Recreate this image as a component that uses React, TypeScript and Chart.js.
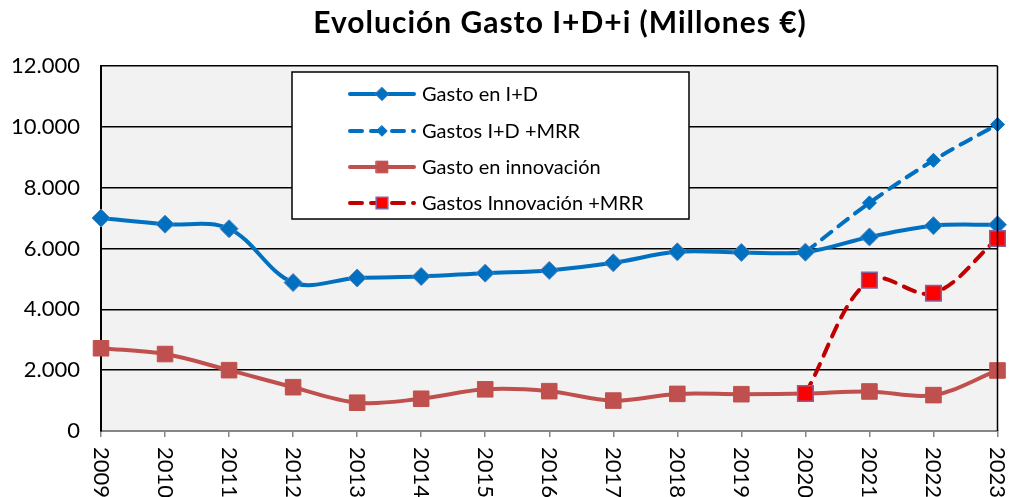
import React, { useEffect, useRef } from "react";
import { Chart, registerables } from "chart.js";

Chart.register(...registerables);

const years = ["2009", "2010", "2011", "2012", "2013", "2014", "2015", "2016", "2017", "2018", "2019", "2020", "2021", "2022", "2023"];
const gastoID = [7000, 6800, 6650, 4880, 5030, 5080, 5190, 5280, 5530, 5890, 5870, 5880, 6380, 6750, 6780];
const gastoIDMRR = [null, null, null, null, null, null, null, null, null, null, null, 5880, 7500, 8900, 10080];
const gastoInnov = [2720, 2530, 2000, 1440, 930, 1060, 1370, 1310, 1000, 1220, 1210, 1230, 1300, 1180, 1990];
const gastoInnovMRR = [null, null, null, null, null, null, null, null, null, null, null, 1230, 4960, 4530, 6330];
const seriesLabels = ["Gasto en I+D", "Gastos I+D +MRR", "Gasto en innovación", "Gastos Innovación +MRR"];
const yTicks = [0, 2000, 4000, 6000, 8000, 10000, 12000];
const title = "Evolución Gasto I+D+i (Millones €)";

const FONT = "Lato, 'DejaVu Sans', sans-serif";

function fmt(v: number): string {
  return String(v).replace(/\B(?=(\d{3})+(?!\d))/g, ".");
}

const decorPlugin = {
  id: "decor",
  beforeDraw(chart: any) {
    const { ctx, chartArea: a } = chart;
    ctx.save();
    ctx.fillStyle = "#F2F2F2";
    ctx.fillRect(a.left, a.top, a.right - a.left, a.bottom - a.top);
    ctx.restore();
  },
  afterDraw(chart: any) {
    const { ctx, chartArea: a } = chart;
    const xs = chart.scales.x;
    ctx.save();
    ctx.strokeStyle = "#000";
    ctx.lineWidth = 1.5;
    ctx.beginPath();
    ctx.moveTo(a.right, a.top);
    ctx.lineTo(a.right, a.bottom);
    ctx.stroke();
    ctx.fillStyle = "#000";
    ctx.font = `bold 30px ${FONT}`;
    ctx.textAlign = "center";
    ctx.textBaseline = "middle";
    (ctx as any).letterSpacing = "1px";
    ctx.fillText(title, 560, 23);
    (ctx as any).letterSpacing = "0px";
    ctx.font = `22px ${FONT}`;
    years.forEach((y, i) => {
      const px = xs.getPixelForValue(i);
      ctx.save();
      ctx.translate(px, a.bottom + 16);
      ctx.rotate(Math.PI / 2);
      ctx.textAlign = "left";
      ctx.textBaseline = "middle";
      ctx.fillText(y, 0, 0);
      ctx.restore();
    });
    const bx = 292, by = 72, bw = 397, bh = 147;
    ctx.fillStyle = "#fff";
    ctx.fillRect(bx, by, bw, bh);
    ctx.strokeStyle = "#000";
    ctx.lineWidth = 1.5;
    ctx.strokeRect(bx, by, bw, bh);
    const rows = [94, 131, 167, 203];
    chart.data.datasets.forEach((ds: any, i: number) => {
      const ry = rows[i];
      ctx.save();
      ctx.strokeStyle = ds.borderColor;
      ctx.lineWidth = ds.borderWidth;
      ctx.lineCap = "round";
      ctx.setLineDash(ds.borderDash || []);
      ctx.beginPath();
      ctx.moveTo(350, ry);
      ctx.lineTo(414, ry);
      ctx.stroke();
      ctx.setLineDash([]);
      ctx.fillStyle = ds.pointBackgroundColor;
      ctx.strokeStyle = ds.pointBorderColor;
      ctx.lineWidth = ds.pointBorderWidth;
      ctx.beginPath();
      const r = ds.pointRadius * 0.75;
      if (ds.pointStyle === "rect") {
        const s = Math.SQRT1_2 * r;
        ctx.rect(382 - s, ry - s, 2 * s, 2 * s);
      } else {
        ctx.moveTo(382, ry - r);
        ctx.lineTo(382 + r, ry);
        ctx.lineTo(382, ry + r);
        ctx.lineTo(382 - r, ry);
        ctx.closePath();
      }
      ctx.fill();
      ctx.stroke();
      ctx.restore();
      ctx.fillStyle = "#000";
      ctx.font = `20px ${FONT}`;
      ctx.textAlign = "left";
      ctx.textBaseline = "middle";
      ctx.fillText(ds.label, 422, ry + 1);
    });
    ctx.restore();
  },
};

export default function App() {
  const ref = useRef<HTMLCanvasElement>(null);
  useEffect(() => {
    document.body.style.margin = "0";
    const chart = new Chart(ref.current!, {
      type: "line",
      data: {
        labels: years,
        datasets: [
          {
            label: seriesLabels[0],
            data: gastoID,
            borderColor: "#0070C0",
            borderWidth: 4,
            pointStyle: "rectRot",
            pointRadius: 9,
            pointBackgroundColor: "#0070C0",
            pointBorderColor: "#4F81BD",
            pointBorderWidth: 1,
            tension: 0.35,
            order: 1,
          },
          {
            label: seriesLabels[1],
            data: gastoIDMRR,
            borderColor: "#0070C0",
            borderWidth: 4,
            borderDash: [12, 9],
            borderCapStyle: "round",
            pointStyle: "rectRot",
            pointRadius: 7,
            pointBackgroundColor: "#0070C0",
            pointBorderColor: "#0070C0",
            pointBorderWidth: 1,
            tension: 0.35,
            order: 2,
          },
          {
            label: seriesLabels[2],
            data: gastoInnov,
            borderColor: "#C0504D",
            borderWidth: 4,
            pointStyle: "rect",
            pointRadius: 11,
            pointBackgroundColor: "#C0504D",
            pointBorderColor: "#C0504D",
            pointBorderWidth: 1,
            tension: 0.35,
            order: 3,
          },
          {
            label: seriesLabels[3],
            data: gastoInnovMRR,
            borderColor: "#C00000",
            borderWidth: 4,
            borderDash: [12, 9],
            borderCapStyle: "round",
            pointStyle: "rect",
            pointRadius: 11,
            pointBackgroundColor: "#FF0000",
            pointBorderColor: "#8064A2",
            pointBorderWidth: 1.5,
            tension: 0.35,
            order: 0,
          },
        ] as any,
      },
      options: {
        responsive: false,
        animation: false,
        events: [],
        layout: { padding: { top: 66, right: 9, left: 0, bottom: 0 } },
        plugins: { legend: { display: false }, tooltip: { enabled: false }, title: { display: false } },
        scales: {
          x: {
            type: "category",
            offset: false,
            grid: { drawOnChartArea: false, drawTicks: true, tickLength: 6, color: "#868686", lineWidth: 1.5 },
            border: { display: true, color: "#868686", width: 2 },
            ticks: { display: false },
            afterFit: (s: any) => { s.height = 66; },
          },
          y: {
            min: 0,
            max: 12000,
            afterBuildTicks: (s: any) => { s.ticks = yTicks.map((v) => ({ value: v })); },
            grid: { color: "#000", lineWidth: 1.5, drawTicks: false },
            border: { display: true, color: "#000", width: 2 },
            ticks: {
              color: "#000",
              padding: 21,
              font: { family: FONT, size: 22 },
              callback: (v: any) => fmt(Number(v)),
            },
            afterFit: (s: any) => { s.width = 101; },
          },
        },
      } as any,
      plugins: [decorPlugin],
    });
    return () => chart.destroy();
  }, []);
  return <canvas ref={ref} width={1010} height={497} style={{ display: "block" }} />;
}
